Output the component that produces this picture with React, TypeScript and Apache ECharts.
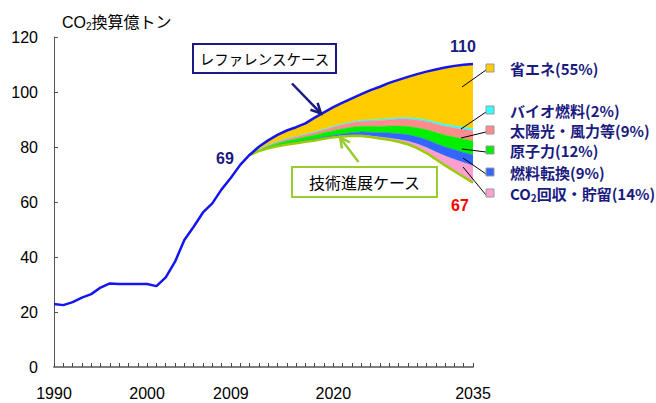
import React, { useEffect, useRef } from 'react';
import * as echarts from 'echarts';

// ---- data ----
const years: string[] = Array.from({ length: 46 }, (_, i) => String(1990 + i));
const shownYearLabels = ['1990', '2000', '2009', '2020', '2035'];

// Reference case CO2 emissions (1990-2035), 億トン
const referenceCase = [
  22.9, 22.5, 23.6, 25.2, 26.5, 28.9, 30.4, 30.2, 30.2, 30.2,
  30.2, 29.4, 32.6, 38.3, 46.2, 51.0, 56.2, 59.5, 64.6, 68.8,
  73.5, 77.1, 80.1, 82.4, 84.4, 86.0, 87.2, 88.6, 90.7, 92.6,
  94.5, 96.1, 97.7, 99.2, 100.7, 101.9, 103.3, 104.4, 105.5, 106.5,
  107.4, 108.2, 108.9, 109.5, 109.9, 110.2,
];

// Technology-advanced case (2011-2035)
const techStartYear = 2011;
const technologyCase = [
  77.1, 78.5, 79.5, 80.3, 80.9, 81.4, 81.9, 82.4, 83.0, 83.5,
  83.8, 84.0, 84.0, 83.6, 83.1, 82.6, 81.9, 81.0, 79.6, 77.8,
  75.6, 73.3, 71.2, 69.1, 67.0,
];

// Reduction contributions by measure (band thickness, 2011-2035)
const ccs = [
  0, 0, 0, 0.05, 0.1, 0.1, 0.15, 0.15, 0.2, 0.2,
  0.25, 0.3, 0.35, 0.4, 0.5, 0.6, 0.8, 1.1, 1.5, 2.0,
  2.6, 3.4, 4.3, 5.2, 6.2,
];
const fuelSwitch = [
  0, 0.05, 0.1, 0.15, 0.2, 0.25, 0.3, 0.35, 0.4, 0.5,
  0.7, 0.9, 1.1, 1.35, 1.6, 1.85, 2.1, 2.35, 2.6, 2.85,
  3.1, 3.3, 3.5, 3.7, 3.9,
];
const nuclear = [
  0, 0.3, 0.6, 0.8, 1.0, 1.15, 1.3, 1.45, 1.6, 1.75,
  1.9, 2.0, 2.1, 2.2, 2.3, 2.55, 2.8, 3.05, 3.3, 3.65,
  4.0, 4.3, 4.6, 4.85, 5.1,
];
const solarWind = [
  0, 0.2, 0.4, 0.55, 0.7, 0.8, 0.9, 1.0, 1.1, 1.3,
  1.5, 1.65, 1.8, 1.95, 2.1, 2.35, 2.55, 2.7, 2.85, 3.0,
  3.1, 3.25, 3.4, 3.55, 3.7,
];
const biofuel = [
  0, 0.05, 0.1, 0.1, 0.15, 0.15, 0.2, 0.2, 0.25, 0.3,
  0.3, 0.35, 0.4, 0.4, 0.45, 0.45, 0.5, 0.5, 0.55, 0.6,
  0.65, 0.7, 0.75, 0.8, 0.8,
];

// legend entries: [text before subscript, subscript, text after]
const measureNames: [string, string, string][] = [
  ['省エネ', '', ''],
  ['バイオ燃料', '', ''],
  ['太陽光・風力等', '', ''],
  ['原子力', '', ''],
  ['燃料転換', '', ''],
  ['CO', '2', '回収・貯留'],
];
const measureShares = [55, 2, 9, 12, 9, 14];

// ---- styles ----
const NAVY = '#1a1a80';
const bandColors = {
  saving: '#FFCC00',
  bio: '#33FFFF',
  solar: '#FF8C8C',
  nuclear: '#00F000',
  fuel: '#3366FF',
  ccs: '#FF9FCF',
};
const legendColors = [bandColors.saving, bandColors.bio, bandColors.solar, bandColors.nuclear, bandColors.fuel, bandColors.ccs];
const legendY = [68, 110, 130, 150, 172, 193];
const leaderEnds: [number, number][] = [
  [462, 87], [461, 129], [461, 138], [462, 149], [463, 158], [463, 167],
];

function arrow(x1: number, y1: number, x2: number, y2: number, color: string) {
  const dx = x2 - x1;
  const dy = y2 - y1;
  const len = Math.hypot(dx, dy);
  const ux = dx / len;
  const uy = dy / len;
  const L = 10;
  const W = 5;
  const bx = x2 - ux * L;
  const by = y2 - uy * L;
  return [
    {
      type: 'line', z: 100, silent: true,
      shape: { x1, y1, x2: x2 - ux * 1.5, y2: y2 - uy * 1.5 },
      style: { stroke: color, lineWidth: 2.5 },
    },
    {
      type: 'polyline', z: 100, silent: true,
      shape: { points: [[bx - uy * W, by + ux * W], [x2, y2], [bx + uy * W, by - ux * W]] },
      style: { stroke: color, lineWidth: 2.5, fill: 'none' },
    },
  ];
}

export default function App() {
  const ref = useRef<HTMLDivElement>(null);

  useEffect(() => {
    if (!ref.current) return;
    const chart = echarts.init(ref.current, null, { renderer: 'svg' });

    const offset = techStartYear - 1990;
    const pad = (arr: number[]) => [...Array(offset).fill(null), ...arr];
    const stackTop = technologyCase.map(
      (v, i) => v + ccs[i] + fuelSwitch[i] + nuclear[i] + solarWind[i] + biofuel[i]
    );
    const saving = stackTop.map((v, i) => Math.max(0, referenceCase[i + offset] - v));

    const band = (name: string, data: number[], color: string) => ({
      name,
      type: 'line',
      stack: 'cut',
      data: pad(data),
      symbol: 'none',
      silent: true,
      lineStyle: { width: 0.6, color },
      areaStyle: { color, opacity: 1 },
      z: 2,
    });

    const graphics: any[] = [];
    // y axis title
    graphics.push({
      type: 'text', z: 100, silent: true, x: 62, y: 22,
      style: {
        text: '{a|CO}{s|2}{a|換算億トン}',
        rich: {
          a: { fontSize: 16, fill: '#000', fontFamily: 'Liberation Sans, Arial, "Noto Sans CJK JP"', lineHeight: 18 },
          s: { fontSize: 10, fill: '#000', fontFamily: 'Liberation Sans, Arial', verticalAlign: 'bottom', lineHeight: 10 },
        },
        textAlign: 'left', textVerticalAlign: 'middle', align: 'left', verticalAlign: 'middle',
      },
    });
    // legend squares, texts, leader lines
    measureNames.forEach((n, i) => {
      const cy = legendY[i];
      graphics.push({
        type: 'line', z: 100, silent: true,
        shape: { x1: 486, y1: cy + 2, x2: leaderEnds[i][0], y2: leaderEnds[i][1] },
        style: { stroke: '#000', lineWidth: 1 },
      });
      graphics.push({
        type: 'rect', z: 101, silent: true,
        shape: { x: 486, y: cy - 4, width: 8, height: 8 },
        style: { fill: legendColors[i], stroke: '#999', lineWidth: 1 },
      });
      const [pre, sub, post] = n;
      const txt = sub
        ? `{a|${pre}}{s|${sub}}{a|${post}(${measureShares[i]}%)}`
        : `{a|${pre}(${measureShares[i]}%)}`;
      graphics.push({
        type: 'text', z: 100, silent: true, x: 510, y: cy,
        style: {
          text: txt,
          rich: {
            a: { fontSize: 15, fontWeight: 'bold', fill: NAVY, fontFamily: '"Noto Sans CJK JP", sans-serif', lineHeight: 18 },
            s: { fontSize: 10, fontWeight: 'bold', fill: NAVY, fontFamily: '"Noto Sans CJK JP", sans-serif', verticalAlign: 'bottom', lineHeight: 10 },
          },
          textAlign: 'left', textVerticalAlign: 'middle', align: 'left', verticalAlign: 'middle',
        },
      });
    });
    // case boxes
    graphics.push({
      type: 'rect', z: 100, silent: true,
      shape: { x: 193, y: 44, width: 143, height: 29 },
      style: { fill: '#fff', stroke: NAVY, lineWidth: 2 },
    });
    graphics.push({
      type: 'text', z: 101, silent: true, x: 264.5, y: 58.5,
      style: {
        text: 'レファレンスケース', fill: '#000', fontSize: 14.5,
        fontFamily: '"Noto Sans CJK JP", sans-serif',
        textAlign: 'center', textVerticalAlign: 'middle', align: 'center', verticalAlign: 'middle',
      },
    });
    graphics.push({
      type: 'rect', z: 100, silent: true,
      shape: { x: 292, y: 167, width: 145, height: 30 },
      style: { fill: '#fff', stroke: '#99CC33', lineWidth: 2 },
    });
    graphics.push({
      type: 'text', z: 101, silent: true, x: 364.5, y: 182,
      style: {
        text: '技術進展ケース', fill: '#000', fontSize: 16,
        fontFamily: '"Noto Sans CJK JP", sans-serif',
        textAlign: 'center', textVerticalAlign: 'middle', align: 'center', verticalAlign: 'middle',
      },
    });
    graphics.push(...arrow(292, 83.5, 321, 113.5, NAVY));
    graphics.push(...arrow(358.5, 162, 340, 137.5, '#99CC33'));
    // value labels
    const valueLabel = (text: string, x: number, y: number, color: string) => ({
      type: 'text', z: 100, silent: true, x, y,
      style: {
        text, fill: color, fontSize: 16, fontWeight: 'bold',
        fontFamily: 'Liberation Sans, Arial, sans-serif',
        textAlign: 'center', textVerticalAlign: 'middle', align: 'center', verticalAlign: 'middle',
      },
    });
    graphics.push(valueLabel('110', 463, 46, NAVY));
    graphics.push(valueLabel('69', 225, 158, NAVY));
    graphics.push(valueLabel('67', 460, 205, '#FF0000'));

    const option: any = {
      animation: false,
      grid: { left: 54, right: 183, top: 37, bottom: 36 },
      xAxis: {
        type: 'category',
        data: years,
        boundaryGap: false,
        z: 10,
        axisLine: { lineStyle: { color: '#808080', width: 2 } },
        axisTick: { show: true, inside: true, length: 4, interval: 0, lineStyle: { color: '#444', width: 1 } },
        axisLabel: {
          interval: (_i: number, v: string) => shownYearLabels.includes(v),
          margin: 18, fontSize: 16, color: '#000',
          fontFamily: 'Liberation Sans, Arial, sans-serif',
        },
        splitLine: { show: false },
      },
      yAxis: {
        type: 'value',
        min: 0,
        max: 120,
        interval: 20,
        axisLine: { show: true, lineStyle: { color: '#555', width: 1 } },
        axisTick: { show: true, inside: true, length: 4, lineStyle: { color: '#555' } },
        axisLabel: { margin: 16, fontSize: 16, color: '#000', fontFamily: 'Liberation Sans, Arial, sans-serif' },
        splitLine: { show: false },
      },
      series: [
        {
          name: 'base', type: 'line', stack: 'cut', data: pad(technologyCase),
          symbol: 'none', silent: true, lineStyle: { width: 0, opacity: 0 }, z: 2,
        },
        band('CO₂回収・貯留', ccs, bandColors.ccs),
        band('燃料転換', fuelSwitch, bandColors.fuel),
        band('原子力', nuclear, bandColors.nuclear),
        band('太陽光・風力等', solarWind, bandColors.solar),
        band('バイオ燃料', biofuel, bandColors.bio),
        band('省エネ', saving, bandColors.saving),
        {
          name: '技術進展ケース', type: 'line', data: pad(technologyCase),
          symbol: 'none', silent: true, lineStyle: { width: 2.5, color: '#99CC00' }, z: 4,
        },
        {
          name: 'レファレンスケース', type: 'line', data: referenceCase,
          symbol: 'none', silent: true, lineStyle: { width: 2.5, color: '#1515F0' }, z: 5,
        },
      ],
      graphic: graphics,
    };
    chart.setOption(option);
    return () => chart.dispose();
  }, []);

  return (
    <div
      ref={ref}
      style={{ position: 'absolute', left: 0, top: 0, width: 656, height: 403, background: '#fff' }}
    />
  );
}
